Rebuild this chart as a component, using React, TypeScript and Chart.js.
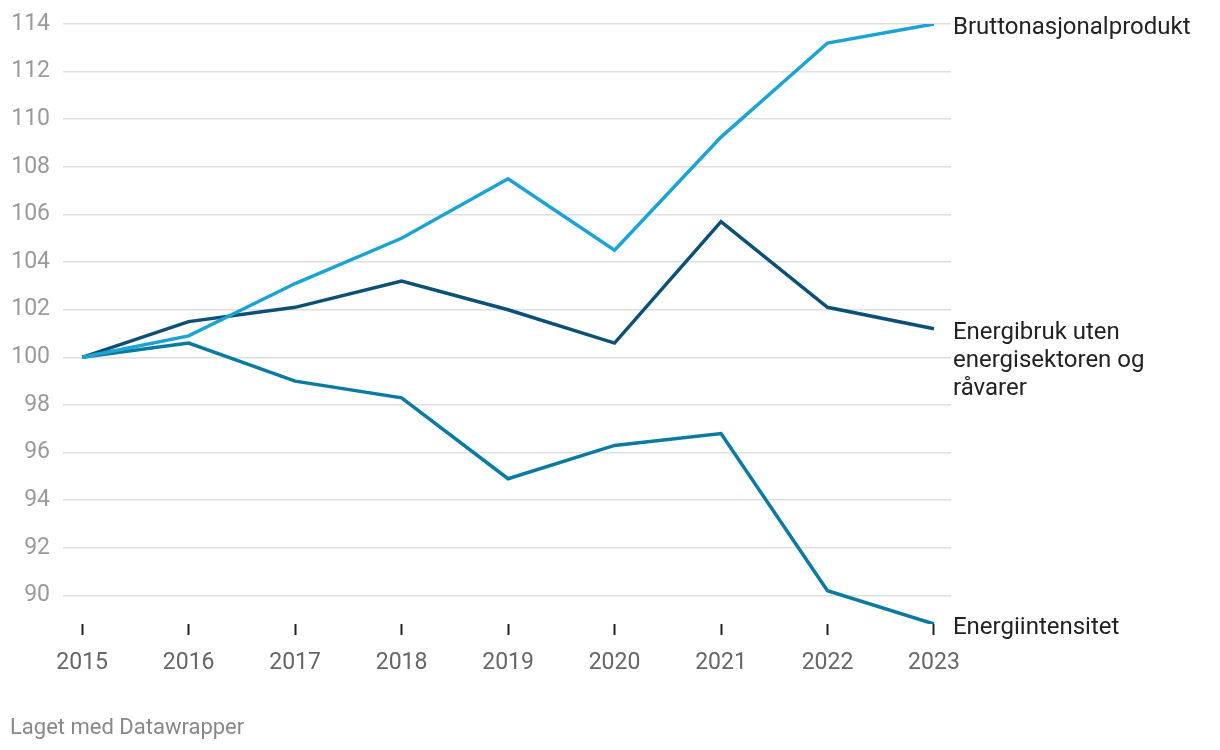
import React, { useEffect, useRef } from "react";
import { Chart, registerables } from "chart.js";

Chart.register(...registerables);

const years = [2015, 2016, 2017, 2018, 2019, 2020, 2021, 2022, 2023];
const gdp = [100, 100.9, 103.1, 105.0, 107.5, 104.5, 109.25, 113.2, 114.0];
const energyUse = [100, 101.5, 102.1, 103.2, 102.0, 100.6, 105.7, 102.1, 101.2];
const energyIntensity = [100, 100.6, 99.0, 98.3, 94.9, 96.3, 96.8, 90.2, 88.8];
const yTicks = [90, 92, 94, 96, 98, 100, 102, 104, 106, 108, 110, 112, 114];
const seriesLabels = [
  ["Bruttonasjonalprodukt"],
  ["Energibruk uten", "energisektoren og", "råvarer"],
  ["Energiintensitet"],
];
const colors = ["#1ba3d3", "#0b5075", "#0a7aa3"];

const FONT = "Roboto, 'Noto Sans', sans-serif";

export default function App() {
  const ref = useRef<HTMLCanvasElement>(null);
  useEffect(() => {
    const endLabels = {
      id: "endLabels",
      afterDatasetsDraw(chart: any) {
        const ctx = chart.ctx;
        ctx.save();
        ctx.font = `24px ${FONT}`;
        ctx.fillStyle = "#222";
        ctx.textAlign = "left";
        ctx.textBaseline = "middle";
        chart.data.datasets.forEach((ds: any, i: number) => {
          const meta = chart.getDatasetMeta(i);
          const pt = meta.data[meta.data.length - 1];
          const lines = seriesLabels[i];
          lines.forEach((l: string, j: number) => {
            ctx.fillText(l, pt.x + 19, pt.y + 4 + j * 28);
          });
        });
        ctx.restore();
      },
    };
    const data = [gdp, energyUse, energyIntensity];
    const chart = new Chart(ref.current!, {
      type: "line",
      data: {
        datasets: data.map((vals, i) => ({
          label: seriesLabels[i].join(" "),
          data: vals.map((v, k) => ({ x: years[k], y: v })),
          borderColor: colors[i],
          borderWidth: 3.5,
          pointRadius: 0,
          tension: 0,
          fill: false,
        })),
      },
      options: {
        animation: false,
        responsive: false,
        maintainAspectRatio: false,
        layout: { padding: { top: 24, right: 269, left: 0, bottom: 0 } },
        plugins: { legend: { display: false }, tooltip: { enabled: false } },
        scales: {
          x: {
            type: "linear",
            min: 2014.82,
            max: 2023.16,
            afterBuildTicks: (s: any) => {
              s.ticks = years.map((y) => ({ value: y }));
            },
            afterFit: (s: any) => {
              s.height = 750 - 624;
            },
            border: { display: false },
            grid: {
              drawOnChartArea: false,
              drawTicks: true,
              tickLength: 11,
              tickWidth: 2,
              tickColor: "#222",
              offset: false,
            },
            ticks: {
              padding: 14,
              color: "#666",
              font: { family: FONT, size: 23 },
              maxRotation: 0,
              autoSkip: false,
              callback: (v: any) => String(v),
            },
          },
          y: {
            min: 88.8,
            max: 114,
            afterBuildTicks: (s: any) => {
              s.ticks = yTicks.map((v) => ({ value: v }));
            },
            afterFit: (s: any) => {
              s.width = 63;
              s.paddingTop = 0;
              s.paddingBottom = 0;
            },
            border: { display: false },
            grid: { color: "#e0e0e0", lineWidth: 1.5, drawTicks: false },
            ticks: {
              padding: 13,
              color: "#9a9a9a",
              font: { family: FONT, size: 23, lineHeight: 1 },
            },
          },
        },
      },
      plugins: [endLabels],
    });
    return () => chart.destroy();
  }, []);
  return (
    <div style={{ position: "fixed", left: 0, top: 0, width: 1220, height: 750, background: "#fff" }}>
      <canvas ref={ref} width={1220} height={750} style={{ display: "block" }} />
      <div
        style={{
          position: "absolute",
          left: 10,
          top: 714,
          fontFamily: FONT,
          fontSize: 22,
          color: "#888",
        }}
      >
        Laget med Datawrapper
      </div>
    </div>
  );
}
